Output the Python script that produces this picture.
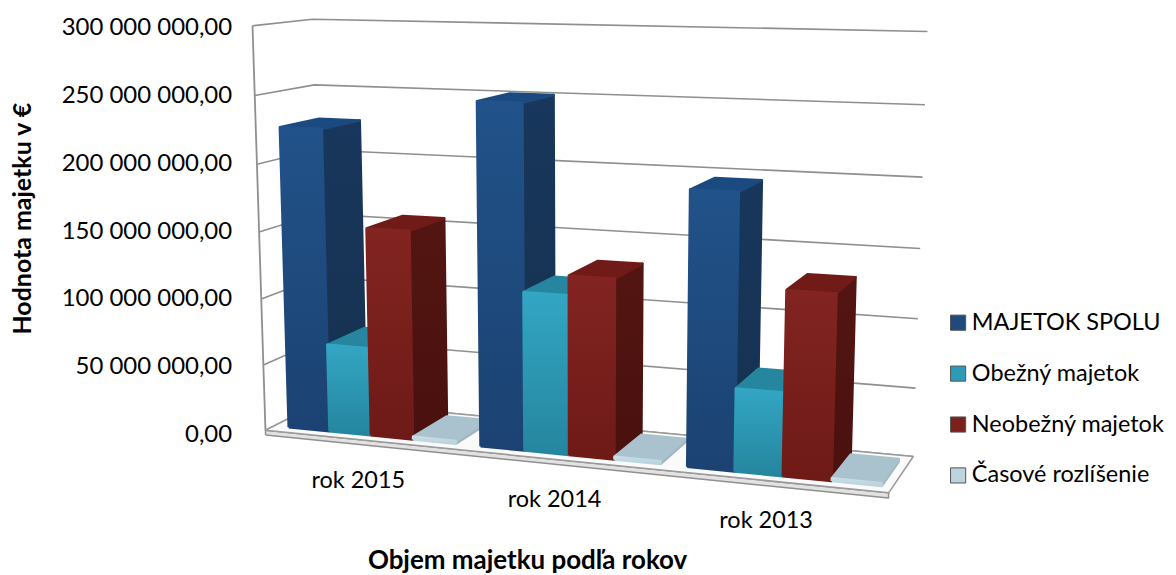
import numpy as np, pandas as pd, altair as alt

categories = ["rok 2015", "rok 2014", "rok 2013"]
series = ["MAJETOK SPOLU", "Obežný majetok", "Neobežný majetok", "Časové rozlíšenie"]
spolu = [226e6, 250e6, 195e6]
obezny = [66e6, 116e6, 59e6]
neobezny = [155e6, 130e6, 130e6]
casove = [2.0e6, 2.0e6, 2.0e6]
values = [spolu, obezny, neobezny, casove]
ticks = [0, 50e6, 100e6, 150e6, 200e6, 250e6, 300e6]

FONT = "Lato"
VMAX = 300e6
# camera calibration: box corner (u, depth, height) -> page pixel
corners = [((0,0,0),(266,431)),((0,0,1),(253,25)),((0,1,0),(323,401)),((0,1,1),(313,19)),
           ((1,1,0),(915,457)),((1,1,1),(929,31)),((1,0,0),(890,493))]
A=[];b=[]
for (X_,Y_,Z_),(px,py) in corners:
    A.append([X_,Y_,Z_,1,0,0,0,0,-px*X_,-px*Y_,-px*Z_]); b.append(px)
    A.append([0,0,0,0,X_,Y_,Z_,1,-py*X_,-py*Y_,-py*Z_]); b.append(py)
P = np.append(np.linalg.lstsq(np.array(A,float),np.array(b,float),rcond=None)[0],1).reshape(3,4)
def proj(u,d,v):
    q = P @ np.array([u,d,v,1.0])
    return q[0]/q[2], q[1]/q[2]

PAD_L = 232; W = 930; H = 567
K = VMAX/408
def yval(py): return (435-py)*K
x_scale = alt.Scale(domain=[PAD_L+8, PAD_L+8+W], range=[0,W], nice=False, zero=False)
y_scale = alt.Scale(domain=[yval(8+H), yval(8)], range=[H,0], nice=False, zero=False)

rows=[]
def poly(key, pts):
    for i,(u,d,v) in enumerate(list(pts)+[pts[0]]):
        px,py = proj(u,d,v)
        rows.append(dict(key=key, i=i, px=px, vy=yval(py)))

GAP=0.57; D0=0.15; D1=0.82; SHIFT=0.005
pitch=(4+GAP)*3
keys=[]
for g in range(3):
    for s in range(4):
        u0=(g+(GAP/2+s)/(4+GAP))/3+SHIFT; u1=u0+1/pitch; h=values[s][g]/VMAX
        poly(f"{g}{s}s",[(u1,D0,0),(u1,D1,0),(u1,D1,h),(u1,D0,h)])
        poly(f"{g}{s}t",[(u0,D0,h),(u1,D0,h),(u1,D1,h),(u0,D1,h)])
        poly(f"{g}{s}f",[(u0,D0,0),(u1,D0,0),(u1,D0,h),(u0,D0,h)])
        keys.append((g,s))
fl=-0.012
poly("floorT",[(0,0,0),(1,0,0),(1,1,0),(0,1,0)])
poly("floorF",[(0,0,fl),(1,0,fl),(1,0,0),(0,0,0)])
poly("wallEdge",[(0,0,0),(0,0,1)])
for t in ticks:
    px=[proj(0,0,t/VMAX),proj(0,1,t/VMAX),proj(1,1,t/VMAX)]
    for i,(a,c) in enumerate(px):
        rows.append(dict(key=f"g{t}",i=i,px=a,vy=yval(c)))
df=pd.DataFrame(rows)

def grad(c1,c2):
    return alt.LinearGradient(gradient="linear",x1=0,y1=0,x2=0,y2=1,
        stops=[alt.GradientStop(offset=0,color=c1),alt.GradientStop(offset=1,color=c2)])
styles=[
 dict(f=("#215289","#1b4272"),s=("#18375c","#163150"),t="#1b4a80"),
 dict(f=("#33a6c4","#25859e"),s=("#1f748b","#1c687d"),t="#26859f"),
 dict(f=("#822421","#6e1a17"),s=("#531512","#4a110e"),t="#701b18"),
 dict(f=("#c8dde6","#b9d2dc"),s=("#9fb7c2","#9fb7c2"),t="#a9c2cd"),
]
x_axis=alt.Axis(title="Objem majetku podľa rokov",labels=False,ticks=False,domain=False,grid=False,
        titleFont=FONT,titleFontSize=26,titleFontWeight="bold",titleColor="#000",titleX=288,titleY=-6,titleAnchor="middle",titleBaseline="alphabetic")
y_axis=alt.Axis(title="Hodnota majetku v €",values=ticks,ticks=False,domain=False,grid=False,labelPadding=8,labelFont=FONT,labelFontSize=24,labelColor="#000",
        labelExpr="replace(replace(format(datum.value, ',.2f'), /,/g, ' '), '.', ',')",
        titleFont=FONT,titleFontSize=25,titleFontWeight="bold",titleColor="#000",titleX=-209,titleY=210,titleAlign="center",titleAnchor="middle",titleBaseline="alphabetic")
X=alt.X("px:Q",scale=x_scale,axis=x_axis)
Y=alt.Y("vy:Q",scale=y_scale,axis=y_axis)
base=alt.Chart(df)
def face(key,fill,stroke,sw=2.5):
    return base.transform_filter(alt.datum.key==key).mark_line(fill=fill,stroke=stroke,strokeWidth=sw,strokeJoin="round",clip=False).encode(
        x=X,y=Y,order="i:O")

layers=[]
layers.append(base.transform_filter(alt.datum.key=="wallEdge").mark_line(stroke="#8f8f8f",strokeWidth=1.8).encode(x=X,y=Y,order="i:O"))
for t in ticks:
    layers.append(base.transform_filter(alt.datum.key==f"g{t}").mark_line(stroke="#8f8f8f",strokeWidth=1.6).encode(x=X,y=Y,order="i:O"))
layers.append(face("floorF","#e2e2e2","#8f8f8f",1.5))
layers.append(face("floorT","#fafafa","#9a9a9a",1.5))
for g,s in keys:
    st=styles[s]
    layers.append(face(f"{g}{s}s",grad(*st["s"]),grad(*st["s"])))
    layers.append(face(f"{g}{s}t",st["t"],st["t"]))
    layers.append(face(f"{g}{s}f",grad(*st["f"]),grad(*st["f"])))

lab=[]
for g,c in enumerate(categories):
    a,bb=proj((g+.5)/3*0.985,0,0)
    lab.append(dict(c=c,px=a,vy=yval(bb)))
layers.append(alt.Chart(pd.DataFrame(lab)).mark_text(font=FONT,fontSize=23.5,color="#000",dy=41).encode(x=X,y=Y,text="c:N"))
layers.append(alt.Chart(pd.DataFrame({"s":series})).mark_point(filled=True,size=0,shape="square").encode(
    x=alt.value(0),y=alt.value(0),
    color=alt.Color("s:N",scale=alt.Scale(domain=series,range=["#1f4a7d","#2d9ab7","#7a211e","#bdd3dd"]),
        legend=alt.Legend(title=None,orient="none",legendX=708,legendY=303,symbolType="square",symbolSize=230,symbolOpacity=1,
            labelFont=FONT,labelFontSize=23.5,labelColor="#000",rowPadding=26,labelOffset=2,symbolStrokeColor="#555",symbolStrokeWidth=1,labelLimit=300))))

chart=alt.layer(*layers).properties(width=W,height=H,padding={"left":PAD_L,"top":0,"right":0,"bottom":0},
    autosize=alt.AutoSizeParams(type="none")).configure_view(stroke=None)
chart.save("out.html",embed_options={"renderer":"svg","actions":False})
